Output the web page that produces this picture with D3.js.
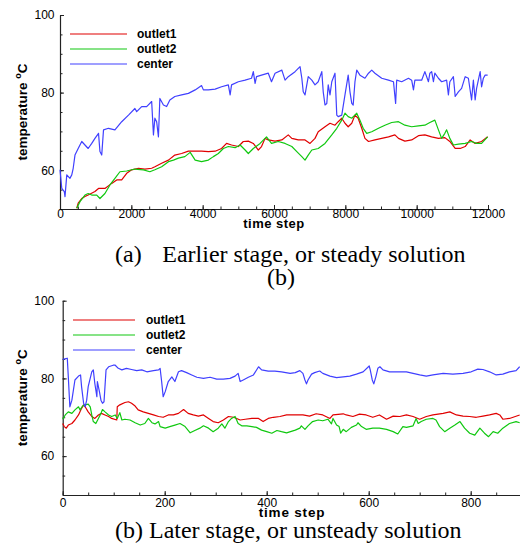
<!DOCTYPE html>
<html><head><meta charset="utf-8">
<script src="https://cdn.jsdelivr.net/npm/d3@7"></script>
<style>
html,body{margin:0;padding:0;background:#fff;}
svg{display:block;}
</style></head>
<body>
<svg id="c" width="520" height="549"></svg>
<script>
// ---------------- DATA ----------------
const seriesNames = ["outlet1", "outlet2", "center"];
const seriesColors = ["#e00000", "#10c810", "#4040ff"];

const topXTicks = [0, 2000, 4000, 6000, 8000, 10000, 12000];
const topYTicks = [60, 80, 100];
const botXTicks = [0, 200, 400, 600, 800];
const botYTicks = [60, 80, 100];

const captionTopLetter = "(a)";
const captionTopText = "Earlier stage, or steady solution";
const captionMid = "(b)";
const captionBottom = "(b) Later stage, or unsteady solution";
const xTitle = "time step";

// top panel: [time step, temperature]
const topCenter = [[0,60.1],[50,55.3],[120,54.5],[140,53.2],[190,58.8],[280,57.9],[330,58.8],[370,60.5],[420,63.9],[510,65.6],[610,67.4],[700,66.5],[790,65.6],[890,66.9],[980,68.2],[1080,69.5],[1120,64.8],[1170,63.9],[1220,70.4],[1360,70.8],[1540,70.4],[1730,72.5],[1920,74.2],[2100,75.9],[2150,75.1],[2290,76.4],[2430,76.4],[2570,77.7],[2620,69.1],[2660,73.4],[2710,72.5],[2760,68.6],[2800,78.5],[2900,76.8],[2990,76.4],[3080,78.1],[3220,79.0],[3410,79.4],[3600,79.8],[3790,80.7],[3970,81.8],[4020,80.7],[4160,80.7],[4350,80.9],[4530,81.5],[4720,82.0],[4770,79.4],[4810,82.0],[5000,82.8],[5190,83.2],[5370,83.7],[5420,85.4],[5470,82.4],[5510,84.1],[5650,84.5],[5840,85.0],[5930,82.8],[6030,85.0],[6220,85.8],[6310,83.2],[6400,84.1],[6590,85.4],[6730,86.7],[6780,83.7],[6820,80.2],[6870,79.4],[6960,84.1],[7060,83.2],[7150,82.0],[7240,82.8],[7340,85.4],[7380,80.2],[7430,76.8],[7480,77.2],[7520,82.0],[7570,79.4],[7620,82.8],[7710,85.0],[7760,74.2],[7800,73.8],[7900,74.2],[7990,79.4],[8080,84.5],[8130,80.2],[8180,77.2],[8220,76.8],[8270,82.8],[8320,85.8],[8410,84.5],[8550,83.7],[8650,85.0],[8740,85.8],[8830,85.0],[9020,83.7],[9210,83.2],[9350,82.8],[9410,77.2],[9440,83.2],[9580,82.8],[9770,83.7],[9860,83.2],[9910,80.7],[9950,83.2],[10140,83.2],[10230,85.4],[10330,82.8],[10370,85.0],[10420,85.4],[10470,82.8],[10510,85.0],[10610,83.7],[10700,82.8],[10840,83.2],[10890,79.4],[10930,82.8],[11030,84.1],[11080,79.0],[11170,80.2],[11260,81.1],[11360,84.1],[11450,83.7],[11540,78.1],[11590,83.2],[11640,78.1],[11680,81.1],[11780,85.4],[11820,81.5],[11870,83.7],[11920,84.5],[11990,84.5]];

const topOutlet1 = [[470,50.2],[510,51.5],[610,52.7],[700,53.2],[790,53.6],[980,54.5],[1080,55.3],[1260,55.3],[1450,56.6],[1590,57.5],[1730,57.5],[1870,59.2],[2010,60.1],[2200,60.5],[2380,60.3],[2570,60.5],[2660,60.9],[2850,61.8],[3040,62.6],[3220,63.9],[3410,64.3],[3600,64.9],[3790,64.9],[3970,64.9],[4160,64.8],[4350,64.9],[4530,65.6],[4670,66.9],[4810,66.5],[5000,66.1],[5140,67.4],[5280,67.5],[5420,66.9],[5560,65.2],[5650,66.1],[5750,68.2],[5840,67.8],[6030,67.5],[6220,67.8],[6400,69.1],[6500,68.2],[6680,67.8],[6870,67.8],[7010,66.9],[7150,68.2],[7240,69.9],[7430,71.2],[7570,72.1],[7710,71.6],[7800,72.5],[7900,73.4],[7990,72.1],[8080,71.2],[8180,72.1],[8270,74.2],[8360,73.4],[8460,70.8],[8550,68.2],[8650,67.4],[8830,67.8],[9020,68.2],[9210,68.6],[9390,69.1],[9490,68.2],[9670,67.5],[9860,67.8],[10050,68.9],[10230,69.1],[10420,68.6],[10610,68.2],[10790,68.4],[10930,67.4],[11080,65.6],[11220,65.6],[11360,66.1],[11500,67.8],[11640,66.9],[11820,67.4],[11990,68.6]];

const topOutlet2 = [[470,50.2],[560,51.9],[700,53.6],[790,54.0],[890,53.6],[1030,53.6],[1120,52.7],[1260,54.0],[1400,56.2],[1540,57.9],[1680,59.6],[1870,59.8],[2100,60.3],[2340,60.1],[2520,59.6],[2660,60.1],[2850,60.9],[3040,62.2],[3180,62.6],[3320,63.1],[3500,63.5],[3650,64.6],[3790,62.6],[3970,62.2],[4160,62.6],[4300,63.5],[4440,64.3],[4580,65.6],[4720,66.1],[4910,65.8],[5050,66.5],[5190,65.2],[5280,64.3],[5420,65.6],[5610,66.9],[5790,68.6],[5930,66.9],[6120,67.4],[6310,66.9],[6500,66.1],[6640,64.8],[6780,63.5],[6870,62.6],[6960,63.9],[7060,65.2],[7240,65.6],[7430,66.9],[7620,69.1],[7760,70.8],[7900,72.9],[7990,74.7],[8080,73.8],[8180,73.4],[8320,74.7],[8410,72.9],[8500,70.8],[8600,69.5],[8740,69.9],[8930,70.8],[9110,71.6],[9300,72.3],[9490,72.5],[9670,71.6],[9860,71.2],[10050,71.4],[10230,71.6],[10370,72.3],[10510,72.9],[10610,70.4],[10700,68.2],[10790,69.5],[10840,70.4],[10930,68.2],[11030,66.5],[11170,66.7],[11360,66.9],[11540,67.4],[11680,66.9],[11820,66.9],[11990,68.6]];

// bottom panel: [time step, temperature]
const botCenter = [[0,84.9],[9,85.2],[11,80.4],[14,72.7],[18,74.4],[24,79.6],[31,80.6],[35,80.9],[37,77.9],[41,73.6],[44,72.7],[47,74.4],[50,77.9],[57,81.7],[60,82.2],[63,78.7],[67,75.3],[68,79.2],[72,76.6],[75,74.4],[78,73.6],[81,74.0],[85,82.2],[90,83.0],[99,83.4],[103,83.4],[109,82.6],[116,82.2],[125,82.6],[135,82.3],[145,82.0],[155,82.2],[165,81.7],[178,82.0],[188,82.2],[191,82.6],[194,79.2],[197,75.3],[201,76.6],[207,79.2],[214,80.4],[220,79.2],[227,81.7],[233,82.0],[243,81.5],[253,80.9],[263,80.3],[276,80.0],[289,80.3],[302,79.8],[315,79.8],[328,80.0],[338,80.6],[344,81.3],[348,79.2],[354,79.6],[364,80.3],[374,80.9],[384,83.0],[390,82.2],[403,81.9],[416,81.9],[429,81.7],[446,81.3],[456,81.5],[465,82.0],[471,81.3],[475,79.6],[478,78.6],[481,79.6],[488,81.1],[494,81.5],[504,81.9],[510,81.3],[524,80.6],[537,80.2],[550,80.4],[563,80.6],[576,81.1],[589,81.7],[601,83.2],[603,82.2],[607,79.6],[610,78.6],[614,80.4],[618,82.6],[622,83.0],[628,82.2],[641,81.7],[654,81.7],[674,81.7],[687,81.3],[700,80.9],[713,80.6],[726,80.9],[746,81.3],[765,81.1],[785,81.3],[801,81.7],[814,82.4],[824,82.3],[837,81.7],[850,80.9],[863,81.1],[876,81.7],[889,82.0],[896,83.0]];

const botOutlet1 = [[0,68.4],[3,67.6],[7,67.2],[11,68.0],[18,68.4],[24,69.3],[31,70.6],[37,72.3],[41,73.2],[44,72.7],[50,71.4],[57,70.2],[63,69.7],[70,70.6],[76,71.0],[83,70.6],[90,70.2],[96,69.7],[106,69.3],[107,72.7],[112,73.2],[122,73.8],[129,74.0],[135,73.6],[142,72.9],[148,71.9],[158,71.4],[168,71.0],[178,70.6],[188,70.2],[197,70.0],[207,70.6],[217,70.6],[227,71.0],[237,72.0],[246,71.0],[256,70.6],[266,70.3],[276,70.6],[286,69.7],[295,68.9],[305,68.6],[315,69.3],[325,70.2],[335,70.0],[341,69.7],[348,69.3],[358,69.5],[371,69.7],[384,69.7],[393,68.9],[403,69.7],[413,70.0],[426,70.2],[439,70.6],[456,70.6],[465,70.6],[471,70.6],[484,70.3],[497,70.9],[510,70.6],[524,69.7],[530,70.6],[550,70.9],[556,70.6],[569,70.2],[582,70.8],[595,70.6],[608,70.0],[621,70.6],[635,69.5],[648,70.3],[661,70.2],[674,70.6],[687,70.2],[700,69.5],[713,70.2],[726,70.6],[746,71.0],[759,71.4],[772,70.6],[785,70.3],[798,70.2],[811,70.0],[824,70.3],[837,70.6],[850,71.0],[857,70.6],[863,69.5],[876,69.7],[896,70.6]];

const botOutlet2 = [[0,69.5],[5,70.6],[11,71.4],[18,71.0],[24,71.9],[31,72.7],[34,71.9],[39,72.9],[44,73.2],[50,73.4],[54,72.7],[57,70.6],[60,68.9],[65,68.4],[70,69.7],[75,71.0],[78,72.0],[83,71.4],[90,70.6],[96,70.2],[103,70.6],[107,69.7],[112,71.2],[116,69.3],[122,69.5],[132,69.3],[142,68.6],[152,68.0],[161,68.4],[168,69.7],[175,68.6],[181,68.3],[188,68.9],[191,67.6],[201,67.2],[210,67.6],[220,68.0],[230,68.4],[240,67.6],[250,66.0],[259,66.6],[269,67.2],[276,67.8],[286,67.2],[295,66.3],[305,67.2],[312,68.3],[318,67.2],[325,68.9],[331,69.7],[338,70.2],[344,68.4],[351,67.8],[361,67.8],[371,67.6],[380,67.4],[390,66.7],[400,66.3],[410,65.9],[420,66.6],[429,66.3],[439,66.0],[456,66.7],[465,67.2],[468,67.8],[475,66.9],[481,67.8],[490,68.9],[501,69.3],[510,69.1],[520,69.5],[527,68.3],[530,69.7],[537,68.0],[542,67.6],[545,65.9],[550,66.9],[556,66.3],[566,67.4],[576,68.0],[579,68.6],[586,67.6],[595,66.9],[608,67.2],[621,67.2],[635,66.9],[648,66.3],[657,65.7],[667,67.6],[674,67.4],[687,67.8],[693,69.7],[697,68.4],[703,68.9],[713,69.5],[726,69.7],[732,69.3],[739,67.6],[749,66.3],[759,67.2],[769,68.0],[779,68.9],[788,67.2],[798,65.9],[808,65.4],[818,67.2],[827,65.9],[835,65.0],[844,66.3],[853,65.9],[863,67.2],[876,68.4],[889,68.9],[896,68.6]];

// ---------------- DRAW ----------------
const svg = d3.select("#c");
const SANS = "'Liberation Sans', Arial, Helvetica, sans-serif";
const SERIF = "'Liberation Serif', 'Times New Roman', serif";

function panel(cfg) {
  const x = d3.scaleLinear().domain(cfg.xDomain).range(cfg.xRange);
  const y = d3.scaleLinear().domain([50, 100]).range(cfg.yRange);
  const g = svg.append("g");

  // minor ticks
  g.append("g").attr("transform", `translate(0,${cfg.yRange[0]})`)
    .call(d3.axisBottom(x).tickValues(cfg.xMinor).tickSizeInner(-2.5).tickSizeOuter(0).tickFormat(""))
    .call(a => a.select(".domain").remove());
  g.append("g").attr("transform", `translate(${cfg.xRange[0]},0)`)
    .call(d3.axisLeft(y).tickValues(d3.range(50, 100.1, 5)).tickSizeInner(-2.5).tickSizeOuter(0).tickFormat(""))
    .call(a => a.select(".domain").remove());

  // major axes
  const xa = g.append("g").attr("transform", `translate(0,${cfg.yRange[0]})`)
    .call(d3.axisBottom(x).tickValues(cfg.xTicks).tickSizeInner(-4).tickSizeOuter(0).tickPadding(cfg.xPad).tickFormat(d3.format("d")));
  const ya = g.append("g").attr("transform", `translate(${cfg.xRange[0]},0)`)
    .call(d3.axisLeft(y).tickValues(cfg.yTicks).tickSizeInner(-4).tickSizeOuter(0).tickPadding(cfg.yPad).tickFormat(d3.format("d")));
  [xa, ya].forEach(a => {
    a.selectAll("text").attr("font-family", SANS).attr("font-size", 12).attr("fill", "#000");
    a.selectAll("line").attr("stroke", "#222");
    a.select(".domain").attr("stroke", "#222").attr("stroke-width", 1.2);
  });
  g.selectAll("line").attr("stroke", "#222");

  // series
  const line = d3.line().x(d => x(d[0])).y(d => y(d[1]));
  const data = [cfg.s1, cfg.s2, cfg.s3];
  g.append("g").selectAll("path").data(data).join("path")
    .attr("d", line).attr("fill", "none")
    .attr("stroke", (d, i) => seriesColors[i]).attr("stroke-width", 1.2)
    .attr("stroke-linejoin", "round");

  // legend
  const lg = g.append("g");
  seriesNames.forEach((n, i) => {
    const yy = cfg.legY + i * 15;
    lg.append("line").attr("x1", cfg.legX1).attr("x2", cfg.legX2).attr("y1", yy).attr("y2", yy)
      .attr("stroke", seriesColors[i]).attr("stroke-width", 1.2);
    lg.append("text").attr("x", cfg.legTx).attr("y", yy + 4.3).text(n)
      .attr("font-family", SANS).attr("font-weight", "bold").attr("font-size", 12);
  });

  // axis titles
  g.append("text").attr("x", cfg.xtX).attr("y", cfg.xtY)
    .attr("text-anchor", "middle").attr("font-family", SANS).attr("font-weight", "bold")
    .attr("font-size", cfg.xtSize).attr("letter-spacing", cfg.xtLs).text(xTitle);

  const yt = g.append("text")
    .attr("transform", `translate(27,${(cfg.yRange[0] + cfg.yRange[1]) / 2}) rotate(-90)`)
    .attr("text-anchor", "middle").attr("font-family", SANS).attr("font-weight", "bold").attr("font-size", 13.5);
  yt.append("tspan").text("temperature ");
  yt.append("tspan").text("o").attr("font-size", 9).attr("dy", -6);
  yt.append("tspan").text("C").attr("dy", 6);
}

panel({
  xDomain: [0, 12000], xRange: [60, 488], yRange: [209, 15],
  xTicks: topXTicks, xMinor: d3.range(0, 12001, 500), yTicks: topYTicks,
  xPad: 0.5, yPad: 5.5,
  s1: topOutlet1, s2: topOutlet2, s3: topCenter,
  legX1: 70, legX2: 127, legTx: 137, legY: 34,
  xtX: 274, xtY: 228, xtSize: 13, xtLs: 0.5
});

panel({
  xDomain: [0, 900], xRange: [62.7, 521.7], yRange: [495, 300.7],
  xTicks: botXTicks, xMinor: d3.range(0, 901, 50), yTicks: botYTicks,
  xPad: 3.5, yPad: 8.4,
  s1: botOutlet1, s2: botOutlet2, s3: botCenter,
  legX1: 73, legX2: 135, legTx: 146, legY: 320,
  xtX: 292, xtY: 517, xtSize: 13.5, xtLs: 0.8
});

// captions
svg.append("text").attr("x", 115).attr("y", 262).text(captionTopLetter)
  .attr("font-family", SERIF).attr("font-size", 24);
svg.append("text").attr("x", 162.3).attr("y", 262).text(captionTopText)
  .attr("font-family", SERIF).attr("font-size", 24);
svg.append("text").attr("x", 281).attr("y", 285).attr("text-anchor", "middle").text(captionMid)
  .attr("font-family", SERIF).attr("font-size", 24);
svg.append("text").attr("x", 115).attr("y", 538).text(captionBottom)
  .attr("font-family", SERIF).attr("font-size", 24);
</script>
</body></html>
